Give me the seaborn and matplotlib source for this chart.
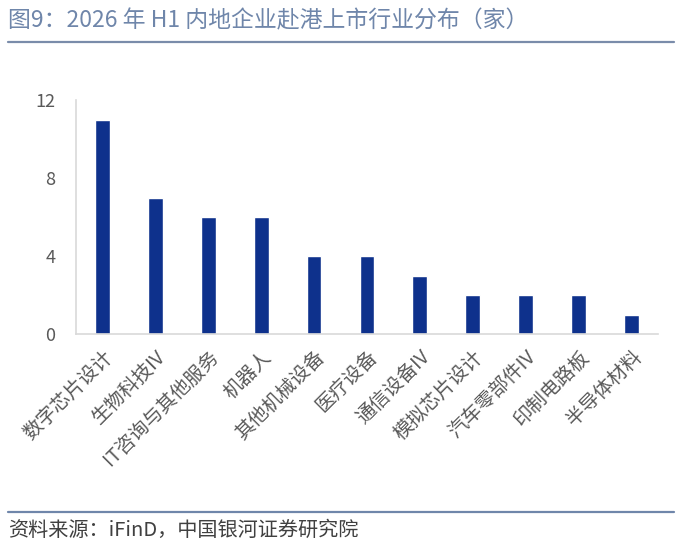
import pandas as pd
import seaborn as sns
import matplotlib.pyplot as plt
from matplotlib.lines import Line2D

# data
industries = ["数字芯片设计", "生物科技IV", "IT咨询与其他服务", "机器人", "其他机械设备",
              "医疗设备", "通信设备IV", "模拟芯片设计", "汽车零部件IV", "印制电路板", "半导体材料"]
counts = [11, 7, 6, 6, 4, 4, 3, 2, 2, 2, 1]
y_ticks = [0, 4, 8, 12]

title_text = "图9：2026 年 H1 内地企业赴港上市行业分布（家）"
source_text = "资料来源：iFinD，中国银河证券研究院"

df = pd.DataFrame({"industry": industries, "count": counts})

sns.set_theme(style="white")
plt.rcParams["font.family"] = ["Noto Sans CJK SC", "DejaVu Sans"]

fig = plt.figure(figsize=(6.8, 5.44), dpi=100)
ax = fig.add_axes([0.1118, 0.386, 0.8558, 0.430])

sns.barplot(data=df, x="industry", y="count", color="#0E318C", width=0.28,
            saturation=1, ax=ax)

ax.set_xlim(-0.5, len(industries) - 0.5)
ax.set_ylim(0, 12)
ax.set_yticks(y_ticks)
ax.set_xlabel(None)
ax.set_ylabel(None)

for side in ["top", "right"]:
    ax.spines[side].set_visible(False)
for side in ["left", "bottom"]:
    ax.spines[side].set_color("#D9D9D9")
    ax.spines[side].set_linewidth(1.2)

ax.tick_params(axis="y", length=0, pad=15, labelsize=13, labelcolor="#595959")
ax.tick_params(axis="x", length=0, pad=9, labelsize=14, labelcolor="#595959")
plt.setp(ax.get_xticklabels(), rotation=45, ha="right", rotation_mode="anchor")

# header and footer
fig.text(0.012, 0.962, title_text, fontsize=16.5, color="#6F86AA", va="center", ha="left")
fig.add_artist(Line2D([0.012, 0.991], [1 - 42 / 544, 1 - 42 / 544],
                      color="#7A8CAA", linewidth=1.6, transform=fig.transFigure))
fig.add_artist(Line2D([0.012, 0.991], [1 - 512 / 544, 1 - 512 / 544],
                      color="#6F86AA", linewidth=1.6, transform=fig.transFigure))
fig.text(0.012, 1 - 530 / 544, source_text, fontsize=14.5, color="#404040",
         va="center", ha="left")

fig.savefig("out.png", dpi=100)
